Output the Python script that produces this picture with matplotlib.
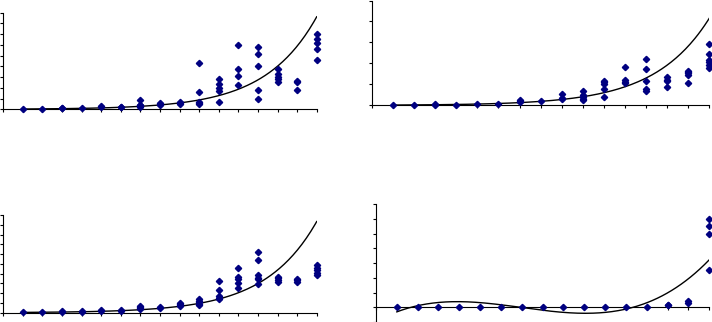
import matplotlib
matplotlib.use('Agg')
import matplotlib.pyplot as plt
import numpy as np

W, H = 712, 322
MARKER_COLOR = '#000080'

days = list(range(1, 17))

tl_vals = [[0.05], [0.05], [0.1, 0.15], [0.1], [0.3, 0.2], [0.2, 0.25],
           [0.87, 0.43, 0.37, 0.3, 0.25], [0.62, 0.5, 0.37], [0.68, 0.56, 0.5],
           [4.29, 1.61, 0.68, 0.56, 0.5], [2.86, 2.36, 1.99, 1.74, 0.68],
           [6.02, 3.73, 3.14, 2.3], [5.84, 5.12, 4.07, 1.83, 0.96],
           [3.73, 3.29, 3.04, 2.86, 2.55], [2.67, 2.55, 1.8],
           [7.05, 6.58, 6.21, 5.59, 4.6]]

tr_vals = [[0.02], [0.02], [0.05, 0.02], [0.03], [0.05], [0.05],
           [0.25, 0.19, 0.16], [0.2], [0.54, 0.36, 0.3],
           [0.68, 0.49, 0.39, 0.3, 0.25], [1.17, 1.11, 1.0, 0.77, 0.38],
           [1.83, 1.2, 1.11, 1.06], [2.21, 1.75, 1.17, 0.79, 0.7],
           [1.33, 1.23, 1.15, 0.88], [1.66, 1.58, 1.52, 1.44, 1.07],
           [2.92, 2.43, 2.15, 2.05, 1.93, 1.79]]

bl_vals = [[0.03], [0.03], [0.17, 0.1], [0.14, 0.07], [0.24, 0.14], [0.27, 0.17],
           [0.68, 0.58, 0.48, 0.38], [0.58, 0.48], [0.99, 0.85, 0.75, 0.65],
           [1.4, 1.23, 1.06, 0.92, 0.75], [3.28, 2.32, 1.74, 1.54, 1.37],
           [4.54, 3.62, 3.41, 3.0, 2.56], [6.21, 5.43, 3.82, 3.58, 3.41, 2.94],
           [3.69, 3.52, 3.34, 3.17], [3.48, 3.31, 3.14],
           [4.91, 4.61, 4.37, 4.1, 3.82]]

br_vals = [[0], [0], [0], [0], [0], [0], [0], [0], [0], [0], [0], [0], [0],
           [0.18, 0.13], [0.41, 0.32], [5.99, 5.52, 4.95, 2.55]]

# trendline equations as shown in the picture
tl_trend = (0.0191, 0.382)    # y = a * exp(b x)
tr_trend = (0.0085, 0.387)
bl_trend = (0.02135, 0.38)
br_trend = [0.006775, -0.14187, 0.7978, -0.9757]   # cubic


def flatten(vals):
    xs, ys = [], []
    for d, v in zip(days, vals):
        for y in v:
            xs.append(d)
            ys.append(y)
    return np.array(xs, float), np.array(ys, float)


def make_axes(fig, left, right, top, bottom):
    # pixel box -> figure fraction
    return fig.add_axes([left / W, 1 - bottom / H, (right - left) / W, (bottom - top) / H])


def style(ax, ylim, yticks):
    ax.set_xlim(0, 16)
    ax.set_ylim(*ylim)
    ax.set_xticks(range(0, 17))
    ax.set_yticks(yticks)
    ax.set_xticklabels([])
    ax.set_yticklabels([])
    for s in ['top', 'right']:
        ax.spines[s].set_visible(False)
    for s in ['left', 'bottom']:
        ax.spines[s].set_linewidth(0.8)
    ax.tick_params(direction='out', length=2.5, width=0.8)
    ax.set_facecolor('none')


def draw_panel(ax, vals, trend, kind):
    x, y = flatten(vals)
    xx = np.linspace(1, 16, 200)
    if kind == 'exp':
        yy = trend[0] * np.exp(trend[1] * xx)
    else:
        yy = np.polyval(trend, xx)
    ax.plot(xx, yy, color='black', lw=1.0, zorder=2)
    ax.plot(x, y, linestyle='none', marker='D', markersize=3.2,
            color=MARKER_COLOR, clip_on=False, zorder=3)


fig = plt.figure(figsize=(W / 100, H / 100), dpi=100)

ax1 = make_axes(fig, 3.3, 316.7, 12.7, 109.3)
style(ax1, (0, 9), range(0, 10))
draw_panel(ax1, tl_vals, tl_trend, 'exp')

ax2 = make_axes(fig, 372, 709.3, 0.5, 105.3)
style(ax2, (0, 5), range(0, 6))
draw_panel(ax2, tr_vals, tr_trend, 'exp')

ax3 = make_axes(fig, 3.3, 316.7, 215, 312.7)
style(ax3, (0, 10), range(0, 11))
draw_panel(ax3, bl_vals, bl_trend, 'exp')

ax4 = make_axes(fig, 376, 709.3, 204, 322)
style(ax4, (-1, 7), range(-1, 8))
ax4.spines['bottom'].set_position(('data', 0))
draw_panel(ax4, br_vals, br_trend, 'poly')

fig.savefig('out.png', dpi=100)
